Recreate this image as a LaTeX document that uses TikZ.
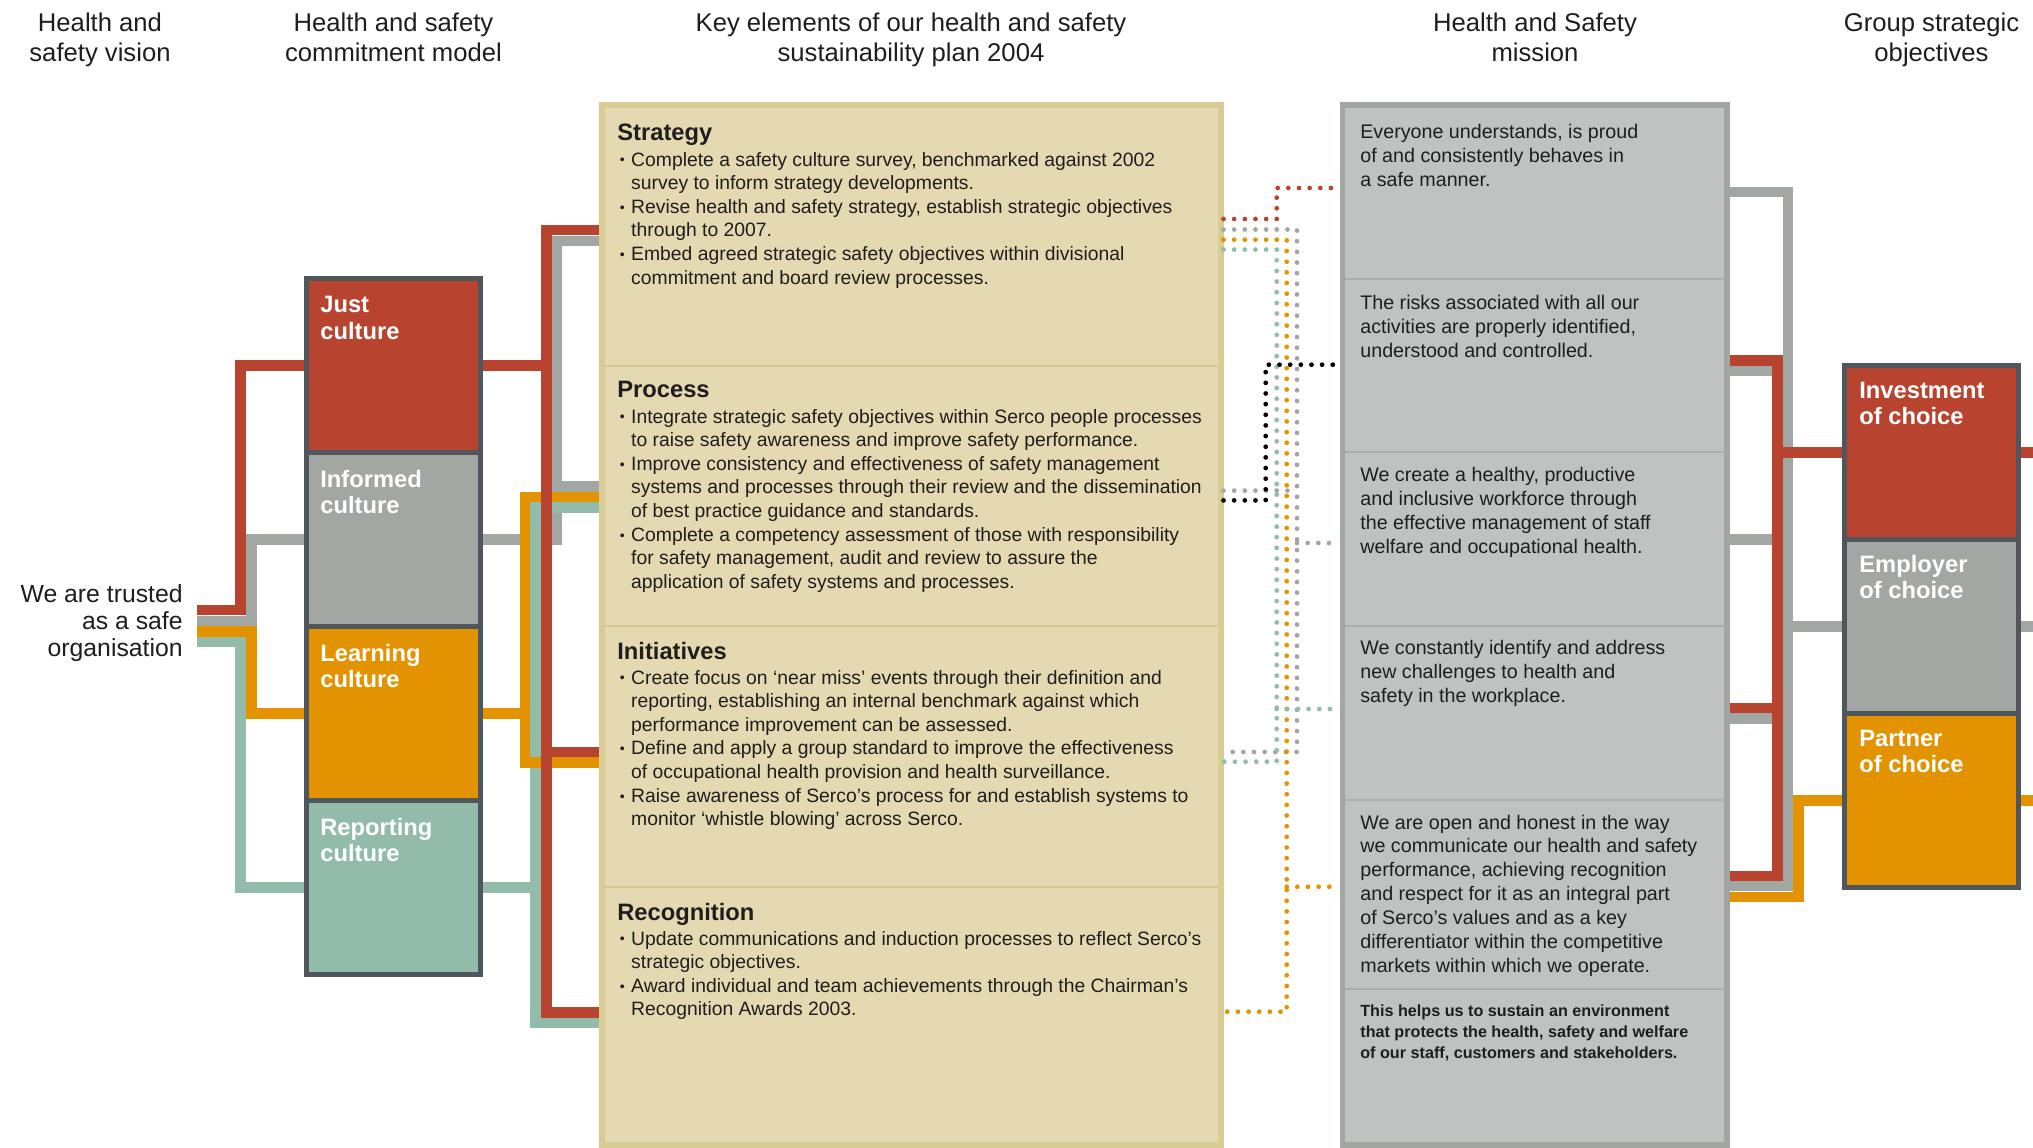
\documentclass[tikz,border=0pt]{standalone}
\usepackage{fontspec}
\setmainfont{Liberation Sans}
\usetikzlibrary{positioning, backgrounds}

\definecolor{hsred}{HTML}{B8432F}
\definecolor{hsgray}{HTML}{A2A7A4}
\definecolor{hsorange}{HTML}{E39200}
\definecolor{hsteal}{HTML}{92BCA9}
\definecolor{hsslate}{HTML}{4F575C}
\definecolor{hsink}{HTML}{1E1E1E}
\definecolor{planfill}{HTML}{E4D9B0}
\definecolor{planedge}{HTML}{D8CB94}
\definecolor{plandiv}{HTML}{D3C796}
\definecolor{missfill}{HTML}{C0C2C1}
\definecolor{missedge}{HTML}{A1A6A3}
\definecolor{missdiv}{HTML}{AAAEAC}

\newcommand{\sectfont}{\fontsize{13.5}{16}\selectfont\bfseries}
\newcommand{\bodyfont}{\fontsize{11}{13.44}\selectfont\mdseries}
\newcommand{\bul}{\par\hangindent=7.9pt\hangafter=1\noindent\hbox to 7.9pt{\hskip1.5pt\raisebox{0.6pt}{\fontsize{8}{8}\selectfont\textbullet}\hss}}

\begin{document}
\begin{tikzpicture}[x=0.2mm, y=-0.2mm,
        hsbar/.style={line width=2.1mm, draw=#1},
        dots/.style={draw=#1, line width=0.95mm, line cap=round, dash pattern=on 0pt off 2.13mm},
        commitcell/.style={rectangle, draw=hsslate, line width=1mm, fill=#1, minimum width=34.8mm, minimum height=34.8mm, inner sep=0pt},
        celltext/.style={anchor=base west, inner sep=0pt, text=white, font=\fontsize{13.5}{15}\selectfont\bfseries},
        headtext/.style={anchor=base, inner sep=0pt, text=hsink, font=\fontsize{14.6}{17}\selectfont},
        planbox/.style={rectangle, draw=planedge, fill=planfill, line width=1.2mm, minimum width=123.8mm, minimum height=208mm, inner sep=0pt},
        missbox/.style={rectangle, draw=missedge, fill=missfill, line width=1.12mm, minimum width=76.98mm, minimum height=208.08mm, inner sep=0pt},
        secttext/.style={anchor=base west, inner sep=0pt, text=hsink},
        rowtext/.style={anchor=base west, inner sep=0pt, text=hsink, font=\fontsize{11.2}{13.6}\selectfont},
        divider/.style={line width=0.3mm, draw=#1}
    ]
        \useasboundingbox (0,0) rectangle (2033,1148);

        % Column headings
        \node[headtext] (hvision) at (100,31.5) {\parbox[t]{60mm}{\centering Health and\\safety vision}};
        \node[headtext] (hcommit) at (393.5,31.5) {\parbox[t]{80mm}{\centering Health and safety\\commitment model}};
        \node[headtext] (hplan) at (911,31.5) {\parbox[t]{120mm}{\centering Key elements of our health and safety\\sustainability plan 2004}};
        \node[headtext] (hmission) at (1535,31.5) {\parbox[t]{80mm}{\centering Health and Safety\\mission}};
        \node[headtext] (hobjectives) at (1931.5,31.5) {\parbox[t]{60mm}{\centering Group strategic\\objectives}};

        % Vision
        \node[anchor=base east, inner sep=0pt, text=hsink, font=\fontsize{14.1}{15.3}\selectfont] (vision) at (183,603) {\parbox[t]{34mm}{\raggedleft We are trusted\\as a safe\\organisation}};
        \coordinate (vis) at ([xshift=2.8mm]vision.east);

        % Commitment model
        \node[commitcell=hsred] (just) at (393.5,365.5) {};
        \node[commitcell=hsgray, below=-1mm of just] (informed) {};
        \node[commitcell=hsorange, below=-1mm of informed] (learning) {};
        \node[commitcell=hsteal, below=-1mm of learning] (reporting) {};
        \node[celltext] at ([xshift=3.2mm,yshift=-7.4mm]just.north west) {\parbox[t]{30mm}{Just\\culture}};
        \node[celltext] at ([xshift=3.2mm,yshift=-7.4mm]informed.north west) {\parbox[t]{30mm}{Informed\\culture}};
        \node[celltext] at ([xshift=3.2mm,yshift=-7.4mm]learning.north west) {\parbox[t]{30mm}{Learning\\culture}};
        \node[celltext] at ([xshift=3.2mm,yshift=-7.4mm]reporting.north west) {\parbox[t]{30mm}{Reporting\\culture}};

        % Sustainability plan
        \node[planbox] (plan) at (911,625) {};
        \foreach \yy in {366,626,887} \draw[divider=plandiv] (604.5,\yy) -- (1217.5,\yy);
        \node[secttext] (strategy) at (617,141) {\parbox[t]{122mm}{\sectfont Strategy\par\vskip0.8pt\bodyfont
            \bul Complete a safety culture survey, benchmarked against 2002\newline survey to inform strategy developments.
            \bul Revise health and safety strategy, establish strategic objectives\newline through to 2007.
            \bul Embed agreed strategic safety objectives within divisional\newline commitment and board review processes.}};
        \node[secttext] (process) at (617,398) {\parbox[t]{122mm}{\sectfont Process\par\vskip0.8pt\bodyfont
            \bul Integrate strategic safety objectives within Serco people processes\newline to raise safety awareness and improve safety performance.
            \bul Improve consistency and effectiveness of safety management\newline systems and processes through their review and the dissemination\newline of best practice guidance and standards.
            \bul Complete a competency assessment of those with responsibility\newline for safety management, audit and review to assure the\newline application of safety systems and processes.}};
        \node[secttext] (initiatives) at (617,659) {\parbox[t]{122mm}{\sectfont Initiatives\par\vskip0.8pt\bodyfont
            \bul Create focus on ‘near miss’ events through their definition and\newline reporting, establishing an internal benchmark against which\newline performance improvement can be assessed.
            \bul Define and apply a group standard to improve the effectiveness\newline of occupational health provision and health surveillance.
            \bul Raise awareness of Serco’s process for and establish systems to\newline monitor ‘whistle blowing’ across Serco.}};
        \node[secttext] (recognition) at (617,920) {\parbox[t]{122mm}{\sectfont Recognition\par\vskip0.8pt\bodyfont
            \bul Update communications and induction processes to reflect Serco’s\newline strategic objectives.
            \bul Award individual and team achievements through the Chairman’s\newline Recognition Awards 2003.}};

        % Mission
        \node[missbox] (mission) at (1534.75,625) {};
        \foreach \yy in {279,452,626,800,989} \draw[divider=missdiv] (1345,\yy) -- (1724.5,\yy);
        \node[rowtext] (m1) at (1360,138.3) {\parbox[t]{72mm}{Everyone understands, is proud\\of and consistently behaves in\\a safe manner.}};
        \node[rowtext] (m2) at (1360,310) {\parbox[t]{72mm}{The risks associated with all our\\activities are properly identified,\\understood and controlled.}};
        \node[rowtext] (m3) at (1360,481.7) {\parbox[t]{72mm}{We create a healthy, productive\\and inclusive workforce through\\the effective management of staff\\welfare and occupational health.}};
        \node[rowtext] (m4) at (1360,655) {\parbox[t]{72mm}{We constantly identify and address\\new challenges to health and\\safety in the workplace.}};
        \node[rowtext] (m5) at (1360,829) {\parbox[t]{72mm}{We are open and honest in the way\\we communicate our health and safety\\performance, achieving recognition\\and respect for it as an integral part\\of Serco’s values and as a key\\differentiator within the competitive\\markets within which we operate.}};
        \node[rowtext, font=\fontsize{9.2}{11.9}\selectfont\bfseries] (m6) at (1360,1016.6) {\parbox[t]{72mm}{This helps us to sustain an environment\\that protects the health, safety and welfare\\of our staff, customers and stakeholders.}};

        % Group strategic objectives
        \node[commitcell=hsred] (investment) at (1931.5,452.5) {};
        \node[commitcell=hsgray, below=-1mm of investment] (employer) {};
        \node[commitcell=hsorange, below=-1mm of employer] (partner) {};
        \node[celltext] at ([xshift=3.4mm,yshift=-7.1mm]investment.north west) {\parbox[t]{30mm}{Investment\\of choice}};
        \node[celltext] at ([xshift=3.4mm,yshift=-7.1mm]employer.north west) {\parbox[t]{30mm}{Employer\\of choice}};
        \node[celltext] at ([xshift=3.4mm,yshift=-7.1mm]partner.north west) {\parbox[t]{30mm}{Partner\\of choice}};

        % Plan to mission (dotted)
        \draw[dots=hsred] (plan.east |- 0,219) -| (1276.7,188) -- (mission.west |- 0,188);
        \draw[dots=hsgray] (plan.east |- 0,229.5) -| (1297,752) -- (plan.east |- 0,752);
        \draw[dots=hsgray] (plan.east |- 0,490.6) -- (1297,490.6);
        \draw[dots=hsgray] (1297,543) -- (mission.west |- 0,543);
        \draw[dots=hsorange] (plan.east |- 0,239.7) -| (1286.7,1011.7) -- (plan.east |- 0,1011.7);
        \draw[dots=hsorange] (1286.7,886.7) -- (mission.west |- 0,886.7);
        \draw[dots=hsteal] (plan.east |- 0,249.6) -| (1276.7,761.7) -- (plan.east |- 0,761.7);
        \draw[dots=hsteal] (1276.7,709) -- (mission.west |- 0,709);
        \draw[dots=black] (plan.east |- 0,500.4) -| (1265.7,364.7) -- (mission.west |- 0,364.7);

        \begin{scope}[on background layer]
            \fill[white] (0,0) rectangle (2033,1148);

            % Vision to commitment model
            \draw[hsbar=hsred] (vis |- 0,610) -| (240.5,0 |- just.west) -- (just.west);
            \draw[hsbar=hsgray] (vis |- 0,621) -| (251.5,0 |- informed.west) -- (informed.west);
            \draw[hsbar=hsorange] (vis |- 0,631.5) -| (251.5,0 |- learning.west) -- (learning.west);
            \draw[hsbar=hsteal] (vis |- 0,642) -| (240.5,0 |- reporting.west) -- (reporting.west);

            % Commitment model to plan
            \draw[hsbar=hsgray] (plan.west |- 0,241) -| (557,0 |- informed.east) -- (informed.east);
            \draw[hsbar=hsgray] (557,486.5) -- (plan.west |- 0,486.5);
            \draw[hsbar=hsteal] (plan.west |- 0,507.5) -| (535.5,1023) -- (plan.west |- 0,1023);
            \draw[hsbar=hsteal] (reporting.east) -- (535.5,0 |- reporting.east);
            \draw[hsbar=hsorange] (plan.west |- 0,497) -| (525,762.5) -- (plan.west |- 0,762.5);
            \draw[hsbar=hsorange] (learning.east) -- (525,0 |- learning.east);
            \draw[hsbar=hsred] (plan.west |- 0,230) -| (546.5,1012.5) -- (plan.west |- 0,1012.5);
            \draw[hsbar=hsred] (546.5,752) -- (plan.west |- 0,752);
            \draw[hsbar=hsred] (just.east) -- (546.5,0 |- just.east);

            % Mission to objectives
            \draw[hsbar=hsorange] (mission.east |- 0,897) -| (1798.5,0 |- partner.west) -- ([xshift=2.6mm]partner.east);
            \draw[hsbar=hsgray] (mission.east |- 0,192) -| (1788,886) -- (mission.east |- 0,886);
            \foreach \yy in {371,539.5,718.5} \draw[hsbar=hsgray] (mission.east |- 0,\yy) -- (1788,\yy);
            \draw[hsbar=hsgray] (1788,0 |- employer.west) -- ([xshift=2.6mm]employer.east);
            \draw[hsbar=hsred] (mission.east |- 0,360.5) -| (1777.5,876) -- (mission.east |- 0,876);
            \draw[hsbar=hsred] (mission.east |- 0,708) -- (1777.5,708);
            \draw[hsbar=hsred] (1777.5,0 |- investment.west) -- ([xshift=2.6mm]investment.east);
        \end{scope}

    \end{tikzpicture}
\end{document}
